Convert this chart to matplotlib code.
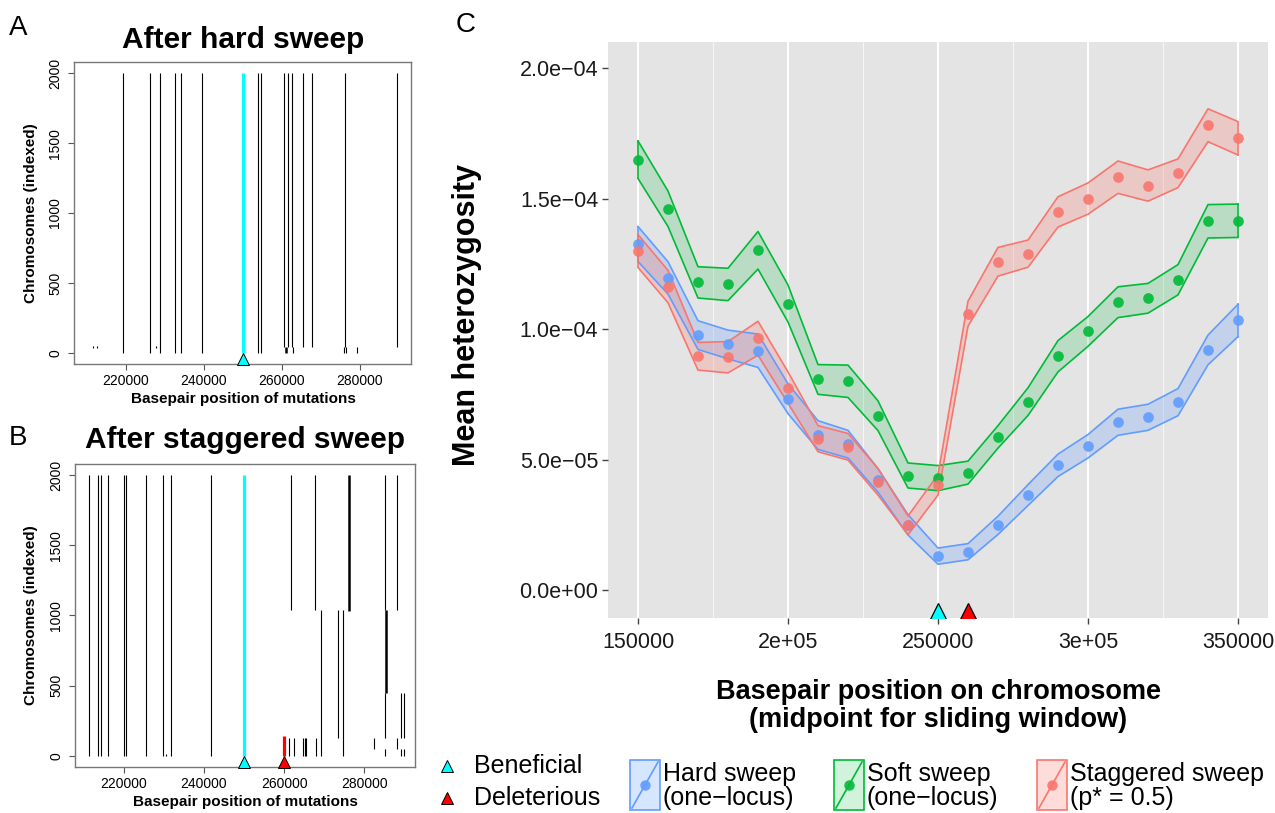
import matplotlib.pyplot as plt
from matplotlib.patches import Rectangle

plt.rcParams['font.family'] = ['Liberation Sans', 'DejaVu Sans']

# ---- panel A: segregating mutations after a hard sweep (position, from, to) ----
a_pos = [211450, 212730, 227700,
         219230, 226160, 228890, 232740, 234190, 239670, 254030, 254710,
         260670, 261690, 262560, 265570, 267800, 276170, 289680,
         262900, 276000, 276500, 279250]
a_lo = [35, 35, 35,
        0, 0, 0, 0, 0, 0, 0, 0,
        40, 40, 40, 40, 40, 40, 40,
        0, 0, 0, 0]
a_hi = [50, 50, 50,
        2000, 2000, 2000, 2000, 2000, 2000, 2000, 2000,
        2000, 2000, 2000, 2000, 2000, 2000, 2000,
        40, 40, 40, 40]
a_thick_pos = [261000]
a_thick_lo = [0]
a_thick_hi = [40]

# ---- panel B: after a staggered sweep ----
b_pos = [211480, 213570, 214480, 216240, 220170, 220590, 225520, 229780, 231870, 241810,
         230530,
         261700, 267700, 285160, 288210,
         273390, 269150, 274740,
         285160, 285160, 288210,
         289230, 289740, 289230, 289740, 282370,
         261270, 262540, 264680, 265080, 265510, 267880]
b_lo = [0, 0, 0, 0, 0, 0, 0, 0, 0, 0,
        0,
        1040, 1040, 1040, 1040,
        130, 0, 0,
        130, 0, 45,
        130, 130, 0, 0, 45,
        0, 0, 0, 0, 0, 0]
b_hi = [2000, 2000, 2000, 2000, 2000, 2000, 2000, 2000, 2000, 2000,
        15,
        2000, 2000, 2000, 2000,
        1040, 1040, 1040,
        450, 45, 130,
        450, 450, 45, 45, 130,
        130, 130, 130, 130, 130, 130]
b_thick_pos = [276110, 285400]
b_thick_lo = [1030, 450]
b_thick_hi = [2000, 1040]
b_red_pos = [260000]
b_red_lo = [0]
b_red_hi = [140]

beneficial_pos = 250000
deleterious_pos = 260000

# ---- panel C: mean heterozygosity in sliding windows (x 1e-4) ----
window_mid = [150000, 160000, 170000, 180000, 190000, 200000, 210000, 220000, 230000, 240000,
              250000, 260000, 270000, 280000, 290000, 300000, 310000, 320000, 330000, 340000, 350000]
hard_mean = [1.326, 1.196, 0.977, 0.941, 0.917, 0.733, 0.594, 0.559, 0.420, 0.250,
             0.130, 0.147, 0.248, 0.364, 0.478, 0.551, 0.643, 0.662, 0.720, 0.920, 1.033]
hard_se = [0.067, 0.062, 0.055, 0.055, 0.064, 0.057, 0.055, 0.053, 0.045, 0.039,
           0.031, 0.031, 0.035, 0.040, 0.043, 0.045, 0.050, 0.050, 0.052, 0.057, 0.062]
soft_mean = [1.649, 1.461, 1.179, 1.171, 1.302, 1.098, 0.807, 0.800, 0.668, 0.439,
             0.429, 0.450, 0.587, 0.722, 0.896, 0.991, 1.103, 1.118, 1.189, 1.413, 1.415]
soft_se = [0.072, 0.068, 0.060, 0.062, 0.072, 0.071, 0.057, 0.062, 0.057, 0.048,
           0.048, 0.044, 0.043, 0.053, 0.060, 0.057, 0.059, 0.057, 0.058, 0.064, 0.064]
stag_mean = [1.299, 1.163, 0.896, 0.892, 0.965, 0.776, 0.580, 0.549, 0.415, 0.248,
             0.403, 1.059, 1.258, 1.289, 1.449, 1.500, 1.582, 1.550, 1.597, 1.781, 1.731]
stag_se = [0.063, 0.062, 0.053, 0.060, 0.065, 0.060, 0.050, 0.051, 0.051, 0.036,
           0.039, 0.048, 0.055, 0.052, 0.058, 0.060, 0.062, 0.060, 0.055, 0.063, 0.064]

c_xticks = [150000, 200000, 250000, 300000, 350000]
c_xticklabels = ['150000', '2e+05', '250000', '3e+05', '350000']
c_yticks = [0, 0.5e-4, 1.0e-4, 1.5e-4, 2.0e-4]
c_yticklabels = ['0.0e+00', '5.0e\u221205', '1.0e\u221204', '1.5e\u221204', '2.0e\u221204']

series = [('Hard sweep\n(one\u2212locus)', hard_mean, hard_se, '#619CFF', 0.25),
          ('Soft sweep\n(one\u2212locus)', soft_mean, soft_se, '#00BA38', 0.18),
          ('Staggered sweep\n(p* = 0.5)', stag_mean, stag_se, '#F8766D', 0.25)]

fig = plt.figure(figsize=(12.75, 8.13), dpi=100)

# overlay in pixel coordinates for free text and legend
ov = fig.add_axes([0, 0, 1, 1])
ov.set_xlim(0, 1275)
ov.set_ylim(813, 0)
ov.axis('off')


def mut_panel(rect, pos, lo, hi, tpos, tlo, thi, xlim):
    ax = fig.add_axes(rect)
    ax.vlines(pos, lo, hi, colors='black', lw=0.8)
    ax.vlines(tpos, tlo, thi, colors='black', lw=1.8)
    ax.vlines([beneficial_pos], [0], [2000], colors='cyan', lw=2.3)
    ax.plot([beneficial_pos], [-45], ls='none', marker='^', ms=8, mfc='cyan',
            mec='black', mew=0.7, clip_on=False, zorder=5)
    ax.set_xlim(*xlim)
    ax.set_ylim(-80, 2080)
    ax.set_xticks([220000, 240000, 260000, 280000])
    ax.set_yticks([0, 500, 1000, 1500, 2000])
    for lab in ax.get_yticklabels():
        lab.set_rotation(90)
        lab.set_va('center')
    ax.tick_params(labelsize=10, length=4.5, color='#555555', width=0.8)
    ax.tick_params(axis='x', pad=3)
    ax.tick_params(axis='y', pad=4)
    for s in ax.spines.values():
        s.set_color('#777777')
        s.set_linewidth(1)
    return ax


axA = mut_panel([74 / 1275, 1 - 364 / 813, 337 / 1275, 302 / 813],
                a_pos, a_lo, a_hi, a_thick_pos, a_thick_lo, a_thick_hi, (206700, 293200))
axB = mut_panel([75 / 1275, 1 - 767 / 813, 340 / 1275, 303 / 813],
                b_pos, b_lo, b_hi, b_thick_pos, b_thick_lo, b_thick_hi, (207900, 292600))
axB.vlines(b_red_pos, b_red_lo, b_red_hi, colors='red', lw=2.3)
axB.plot([deleterious_pos], [-45], ls='none', marker='^', ms=8, mfc='red',
         mec='black', mew=0.7, clip_on=False, zorder=5)

ov.text(243, 40, 'After hard sweep', ha='center', va='center', fontsize=21.5, fontweight='bold')
ov.text(245, 440, 'After staggered sweep', ha='center', va='center', fontsize=21.5, fontweight='bold')
ov.text(243, 399, 'Basepair position of mutations', ha='center', va='center', fontsize=11, fontweight='bold')
ov.text(245, 802, 'Basepair position of mutations', ha='center', va='center', fontsize=11, fontweight='bold')
ov.text(31, 213, 'Chromosomes (indexed)', rotation=90, ha='center', va='center', fontsize=11, fontweight='bold')
ov.text(31, 615, 'Chromosomes (indexed)', rotation=90, ha='center', va='center', fontsize=11, fontweight='bold')
ov.text(9, 28, 'A', ha='left', va='center', fontsize=20)
ov.text(9, 438, 'B', ha='left', va='center', fontsize=20)
ov.text(456, 25, 'C', ha='left', va='center', fontsize=20)

# ---- panel C ----
axC = fig.add_axes([608 / 1275, 1 - 618 / 813, 660 / 1275, 576 / 813])
axC.set_facecolor('#E4E4E4')
for v in [175000, 225000, 275000, 325000]:
    axC.axvline(v, color='white', lw=0.6, alpha=0.8, zorder=0)
for v in c_xticks:
    axC.axvline(v, color='white', lw=1.4, zorder=0)

for label, mean, se, col, fa in series:
    m = [v * 1e-4 for v in mean]
    lo = [(v - s) * 1e-4 for v, s in zip(mean, se)]
    hi = [(v + s) * 1e-4 for v, s in zip(mean, se)]
    axC.fill_between(window_mid, lo, hi, facecolor=col, alpha=fa, lw=0, zorder=2)
    axC.plot(window_mid, lo, color=col, lw=1.2, zorder=3)
    axC.plot(window_mid, hi, color=col, lw=1.2, zorder=3)
    axC.plot([window_mid[0]] * 2, [lo[0], hi[0]], color=col, lw=1.2, zorder=3)
    axC.plot([window_mid[-1]] * 2, [lo[-1], hi[-1]], color=col, lw=1.2, zorder=3)
    axC.plot(window_mid, m, ls='none', marker='o', ms=7.7, color=col, alpha=0.9,
             mew=0, zorder=4)

axC.plot([beneficial_pos], [-0.085e-4], ls='none', marker='^', ms=12.5, mfc='cyan',
         mec='black', mew=0.9, zorder=5)
axC.plot([deleterious_pos], [-0.085e-4], ls='none', marker='^', ms=12.5, mfc='red',
         mec='black', mew=0.9, zorder=5)

axC.set_xlim(140000, 360000)
axC.set_ylim(-0.107e-4, 2.10e-4)
axC.set_xticks(c_xticks)
axC.set_xticklabels(c_xticklabels)
axC.set_yticks(c_yticks)
axC.set_yticklabels(c_yticklabels)
axC.tick_params(labelsize=15.5, length=4, color='#444444', width=1, labelcolor='#1a1a1a')
axC.tick_params(axis='x', pad=6)
axC.tick_params(axis='y', pad=3)
for s in axC.spines.values():
    s.set_visible(False)

ov.text(467, 315, 'Mean heterozygosity', rotation=90, ha='center', va='center',
        fontsize=22, fontweight='bold')
ov.text(938, 706, 'Basepair position on chromosome\n(midpoint for sliding window)',
        ha='center', va='center', fontsize=19.5, fontweight='bold', linespacing=1.1)

# ---- legend at bottom ----
ov.plot([447], [766], ls='none', marker='^', ms=8.5, mfc='cyan', mec='black', mew=0.7)
ov.plot([447], [798], ls='none', marker='^', ms=8.5, mfc='red', mec='black', mew=0.7)
ov.text(474, 766, 'Beneficial', ha='left', va='center', fontsize=18)
ov.text(474, 798, 'Deleterious', ha='left', va='center', fontsize=18)

key_x = [630, 834, 1037]
for (label, mean, se, col, fa), kx in zip(series, key_x):
    ov.add_patch(Rectangle((kx, 760), 30, 50, facecolor=col, alpha=fa, lw=0))
    ov.add_patch(Rectangle((kx, 760), 30, 50, facecolor='none', edgecolor=col, lw=1.2))
    ov.plot([kx + 2, kx + 28], [808, 762], color=col, lw=1.2)
    ov.plot([kx + 15], [785], ls='none', marker='o', ms=7.5, color=col, alpha=0.9, mew=0)
    ov.text(kx + 33, 786, label, ha='left', va='center', fontsize=18, linespacing=1.05)

fig.savefig('out.png', dpi=100)
